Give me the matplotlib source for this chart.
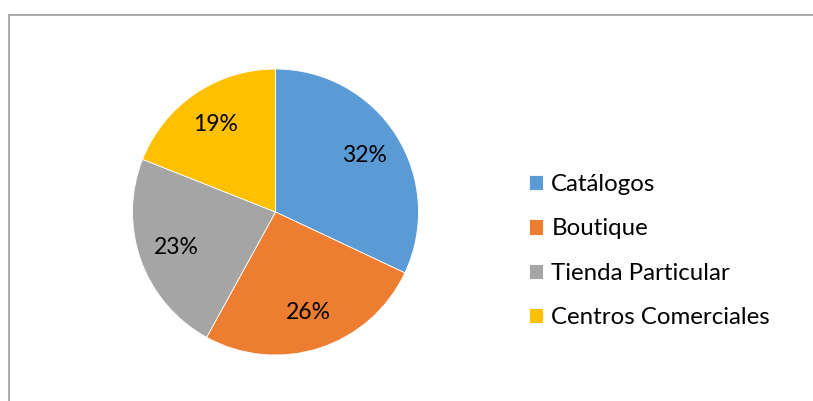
import matplotlib
matplotlib.use('Agg')
import matplotlib.pyplot as plt
from matplotlib.lines import Line2D

plt.rcParams['font.family'] = ['Lato', 'DejaVu Sans']

# data
categories = ['Catálogos', 'Boutique', 'Tienda Particular', 'Centros Comerciales']
values = [32, 26, 23, 19]
colors = ['#5B9BD5', '#ED7D31', '#A5A5A5', '#FFC000']

W, H = 813, 401
fig = plt.figure(figsize=(W/100, H/100), dpi=100)
ax = fig.add_axes([0, 0, 1, 1])

wedges, texts, autotexts = ax.pie(values, colors=colors, startangle=90, counterclock=False,
                                  center=(275.5, H-212), radius=143,
                                  autopct='%.0f%%', pctdistance=0.74,
                                  wedgeprops=dict(edgecolor='white', linewidth=0.6))
for t in autotexts:
    t.set_fontsize(16.5)
    t.set_color('black')

ax.set_xlim(0, W)
ax.set_ylim(0, H)
ax.axis('off')

leg = ax.legend(wedges, categories, loc='center left', bbox_to_anchor=(529, H-251),
                bbox_transform=ax.transData, frameon=False, fontsize=17.3,
                handlelength=0.6, handleheight=0.6, handletextpad=0.33,
                labelspacing=0.97, borderpad=0, borderaxespad=0)
for t in leg.get_texts():
    t.set_color('black')

# chart border (only top and left visible in the crop)
fig.add_artist(Line2D([9/W, 1.05], [(H-15)/H, (H-15)/H], transform=fig.transFigure,
                      color='#A6A6A6', lw=1.3))
fig.add_artist(Line2D([9/W, 9/W], [-0.05, (H-15)/H], transform=fig.transFigure,
                      color='#A6A6A6', lw=1.3))

fig.savefig('out.png', dpi=100)
